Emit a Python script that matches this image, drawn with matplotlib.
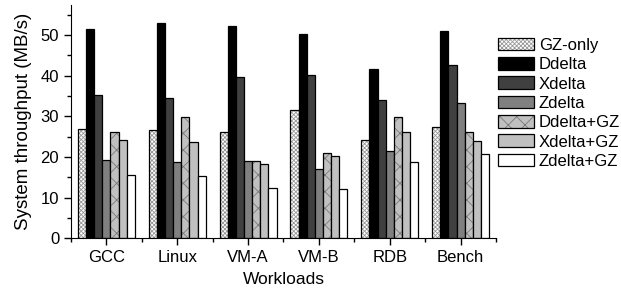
import matplotlib.pyplot as plt
import numpy as np
from matplotlib.ticker import MultipleLocator

plt.rcParams['font.family'] = ['Liberation Sans', 'DejaVu Sans']
plt.rcParams['hatch.linewidth'] = 0.6

workloads = ['GCC', 'Linux', 'VM-A', 'VM-B', 'RDB', 'Bench']
series = ['GZ-only', 'Ddelta', 'Xdelta', 'Zdelta', 'Ddelta+GZ', 'Xdelta+GZ', 'Zdelta+GZ']

gz_only = [27.0, 26.6, 26.1, 31.5, 24.2, 27.4]
ddelta = [51.6, 52.9, 52.2, 50.2, 41.7, 51.0]
xdelta = [35.2, 34.5, 39.6, 40.1, 34.1, 42.6]
zdelta = [19.3, 18.8, 19.0, 17.1, 21.5, 33.3]
ddelta_gz = [26.1, 29.8, 19.0, 21.0, 29.8, 26.1]
xdelta_gz = [24.2, 23.7, 18.3, 20.3, 26.1, 23.9]
zdelta_gz = [15.7, 15.4, 12.4, 12.2, 18.8, 20.7]

values = [gz_only, ddelta, xdelta, zdelta, ddelta_gz, xdelta_gz, zdelta_gz]
faces = ['white', 'black', '#404040', '#808080', '#c0c0c0', '#c0c0c0', 'white']
hatches = ['xxxxxxxx', None, None, None, 'xx', None, None]
hatch_cols = ['#999999', 'black', 'black', 'black', '#7a7a7a', 'black', 'black']

fig = plt.figure(figsize=(6.21, 2.95), dpi=100)
ax = fig.add_axes([0.1143, 0.192, 0.6844, 0.791])

x = np.arange(len(workloads))
w = 0.115
for i, (name, vals) in enumerate(zip(series, values)):
    pos = x + (i - 3) * w
    bars = ax.bar(pos, vals, w, color=faces[i], edgecolor='black', linewidth=0.9,
                  hatch=hatches[i], label=name)
    for b in bars:
        b._hatch_color = plt.matplotlib.colors.to_rgba(hatch_cols[i])

ax.set_xlim(-0.5, 5.5)
ax.set_ylim(0, 57.4)
ax.set_xticks(x)
ax.set_xticklabels(workloads, fontsize=12)
ax.xaxis.set_minor_locator(MultipleLocator(1, offset=0.5))
ax.yaxis.set_major_locator(MultipleLocator(10))
ax.yaxis.set_minor_locator(MultipleLocator(5))
ax.tick_params(axis='both', which='major', direction='out', length=5, width=1, labelsize=12)
ax.tick_params(axis='both', which='minor', direction='out', length=3, width=1)
ax.spines['top'].set_visible(False)
ax.spines['right'].set_visible(False)
ax.set_xlabel('Workloads', fontsize=12.5, labelpad=5)
ax.set_ylabel('System throughput (MB/s)', fontsize=13.5, labelpad=6)

leg = ax.legend(loc='upper left', bbox_to_anchor=(1.005, 0.86), frameon=False,
                fontsize=12, handlelength=2.15, handleheight=0.8,
                labelspacing=0.25, handletextpad=0.3, borderaxespad=0,
                borderpad=0)

fig.savefig('out.png', dpi=100)
